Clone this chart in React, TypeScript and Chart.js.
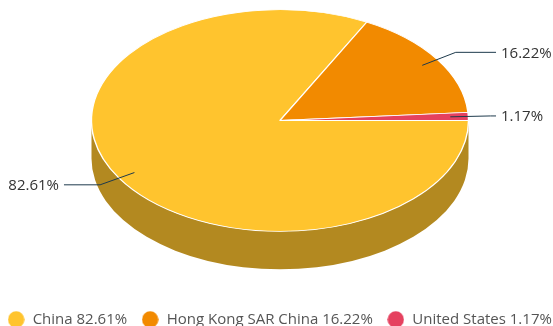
import { useEffect, useRef } from "react";
import { Chart, registerables } from "chart.js";

Chart.register(...registerables);

const categories = ["China", "Hong Kong SAR China", "United States"];
const shares = [82.61, 16.22, 1.17];
const sliceColors = ["#FFC42E", "#F28A00", "#E5415F"];

const FONT_FAMILY = "'Open Sans', sans-serif";
const TILT = 0.588; // vertical squash of the pie's top face
const DEPTH = 38; // height of the side wall, px
const WALL_SHADE = 0.7;
const PIE_CENTER_X = 280;
const PIE_CENTER_Y = 120.5;

function shade(hex: string, factor: number) {
  const n = parseInt(hex.slice(1), 16);
  const part = (s: number) => Math.round(((n >> s) & 255) * factor);
  return `rgb(${part(16)},${part(8)},${part(0)})`;
}

// A round legend swatch, drawn on its own canvas so its box can be wider than the dot.
function dot(color: string) {
  const canvas = document.createElement("canvas");
  canvas.width = 17;
  canvas.height = 17;
  const c = canvas.getContext("2d")!;
  c.fillStyle = color;
  c.beginPath();
  c.arc(8.5, 8.5, 8.2, 0, Math.PI * 2);
  c.fill();
  return canvas;
}

// Keeps the pie in the upper part of the canvas, independent of the legend's box.
const pieArea = {
  id: "pieArea",
  afterLayout(chart: Chart) {
    const area = chart.chartArea;
    area.left = 0;
    area.right = PIE_CENTER_X * 2;
    area.top = 0;
    area.bottom = PIE_CENTER_Y * 2;
    area.width = area.right;
    area.height = area.bottom;
  },
};

// Flattens the arcs into an ellipse and extrudes the part of each slice that faces the viewer.
const tiltedPie = {
  id: "tiltedPie",
  beforeDatasetsDraw(chart: Chart) {
    const { ctx } = chart;
    const arcs = chart.getDatasetMeta(0).data as any[];
    arcs.forEach((arc, i) => {
      const { x, y, startAngle, endAngle, outerRadius } = arc.getProps(
        ["x", "y", "startAngle", "endAngle", "outerRadius"],
        true
      );
      // Only angles between 0 and PI lie on the front half of the rim.
      const from = Math.max(startAngle, 0);
      const to = Math.min(endAngle, Math.PI);
      if (to <= from) return;
      const ry = outerRadius * TILT;
      ctx.save();
      ctx.fillStyle = shade(sliceColors[i], WALL_SHADE);
      ctx.beginPath();
      ctx.ellipse(x, y, outerRadius, ry, 0, from, to);
      ctx.ellipse(x, y + DEPTH, outerRadius, ry, 0, to, from, true);
      ctx.closePath();
      ctx.fill();
      ctx.restore();
    });
    const { x, y } = arcs[0];
    ctx.save();
    ctx.translate(x, y);
    ctx.scale(1, TILT);
    ctx.translate(-x, -y);
  },
  afterDatasetsDraw(chart: Chart) {
    chart.ctx.restore();
  },
};

// Leader lines and percentage labels beside each slice.
const sliceLabels = {
  id: "sliceLabels",
  afterDatasetsDraw(chart: Chart) {
    const { ctx } = chart;
    const arcs = chart.getDatasetMeta(0).data as any[];
    arcs.forEach((arc, i) => {
      const { x, y, startAngle, endAngle, outerRadius } = arc.getProps(
        ["x", "y", "startAngle", "endAngle", "outerRadius"],
        true
      );
      const mid = (startAngle + endAngle) / 2;
      const cos = Math.cos(mid);
      const sin = Math.sin(mid);
      const side = cos >= 0 ? 1 : -1;
      const at = (r: number) => [x + cos * r, y + sin * TILT * r];
      const [x0, y0] = at(outerRadius * 0.904);
      const [x1, y1] = at(outerRadius * 1.117);
      const x2 = x + side * outerRadius * 1.146;
      ctx.save();
      ctx.strokeStyle = "#1E3A4C";
      ctx.lineWidth = 1;
      ctx.beginPath();
      ctx.moveTo(x0, y0);
      ctx.lineTo(x1, y1);
      ctx.lineTo(x2, y1);
      ctx.stroke();
      ctx.fillStyle = "#333333";
      ctx.font = `15px ${FONT_FAMILY}`;
      ctx.textBaseline = "middle";
      ctx.textAlign = side > 0 ? "left" : "right";
      ctx.fillText(`${shares[i]}%`, x2 + side * 5, y1 + 1);
      ctx.restore();
    });
  },
};

export default function App() {
  const ref = useRef<HTMLCanvasElement>(null);

  useEffect(() => {
    const chart = new Chart(ref.current!, {
      type: "pie",
      data: {
        labels: categories.map((name, i) => `${name} ${shares[i]}%`),
        datasets: [
          {
            data: shares,
            backgroundColor: sliceColors,
            borderColor: "#FFFFFF",
            borderWidth: 1.4,
            clip: false,
          },
        ],
      },
      options: {
        responsive: false,
        animation: false,
        rotation: 90,
        radius: 188.5,
        layout: { padding: { left: -20, right: -26, top: 0, bottom: -11 } },
        plugins: {
          tooltip: { enabled: false },
          legend: {
            position: "bottom",
            labels: {
              usePointStyle: true,
              pointStyleWidth: 18,
              boxHeight: 11.3,
              padding: 14,
              color: "#555555",
              font: { family: FONT_FAMILY, size: 15 },
              generateLabels(c: Chart) {
                return Chart.overrides.pie.plugins.legend.labels
                  .generateLabels(c)
                  .map((item: any, i: number) => ({
                    ...item,
                    lineWidth: 0,
                    pointStyle: dot(sliceColors[i]),
                  }));
              },
            },
          },
        },
      } as any,
      plugins: [pieArea, tiltedPie, sliceLabels],
    });
    return () => chart.destroy();
  }, []);

  return (
    <div style={{ position: "fixed", left: 0, top: 0, width: 553, height: 326, background: "#fff" }}>
      <canvas ref={ref} width={553} height={326} style={{ display: "block" }} />
    </div>
  );
}
